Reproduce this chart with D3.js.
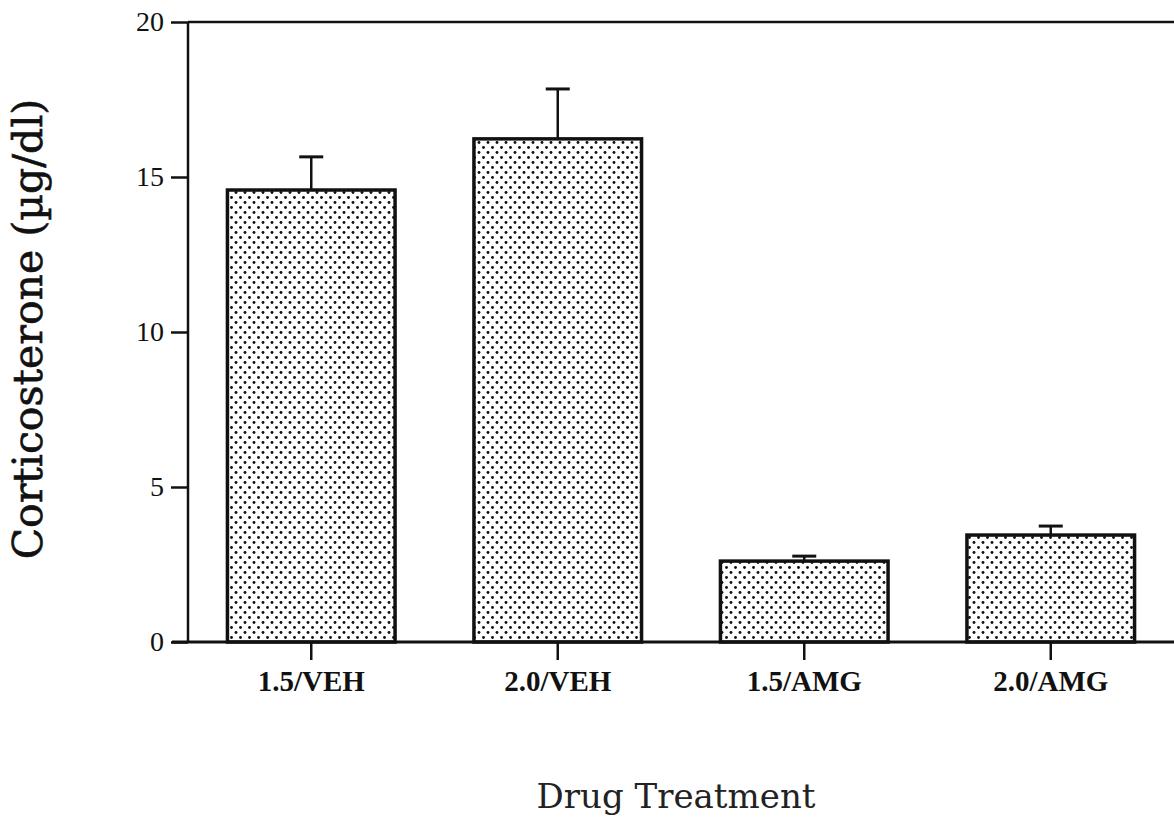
<!DOCTYPE html>
<html>
<head>
<meta charset="utf-8">
<script src="https://cdn.jsdelivr.net/npm/d3@7"></script>
<style>
  body { margin: 0; background: #fff; }
</style>
</head>
<body>
<div id="visHolder"></div>
<script>
// data
const groups = ["1.5/VEH", "2.0/VEH", "1.5/AMG", "2.0/AMG"];
const means = [14.58, 16.23, 2.61, 3.45];
const errors = [1.07, 1.61, 0.16, 0.29];
const yTicks = [0, 5, 10, 15, 20];

const width = 1174;
const height = 823;

let svg = d3.select("#visHolder")
    .append("svg")
    .attr("width", width)
    .attr("height", height);

// dotted fill
let pat = svg.append("defs")
    .append("pattern")
    .attr("id", "dots")
    .attr("patternUnits", "userSpaceOnUse")
    .attr("width", 9)
    .attr("height", 10);
pat.append("rect").attr("width", 9).attr("height", 10).attr("fill", "#fff");
pat.append("circle").attr("cx", 2).attr("cy", 2.5).attr("r", 1.45).attr("fill", "#111");
pat.append("circle").attr("cx", 6.5).attr("cy", 7.5).attr("r", 1.45).attr("fill", "#111");

let xScale = d3.scaleBand()
    .domain(groups)
    .range([188, 1174])
    .paddingInner(0.32)
    .paddingOuter(0.16);

let yScale = d3.scaleLinear()
    .domain([0, 20])
    .range([642, 22]);

// bars
svg.selectAll("rect.bar")
    .data(groups)
    .enter()
    .append("rect")
    .attr("class", "bar")
    .attr("x", d => xScale(d))
    .attr("y", (d, i) => yScale(means[i]))
    .attr("width", xScale.bandwidth())
    .attr("height", (d, i) => yScale(0) - yScale(means[i]))
    .attr("fill", "url(#dots)")
    .attr("stroke", "#111")
    .attr("stroke-width", 3.5);

// error bars (upper only)
groups.forEach((g, i) => {
    let cx = xScale(g) + xScale.bandwidth() / 2;
    svg.append("line")
        .attr("x1", cx).attr("x2", cx)
        .attr("y1", yScale(means[i]))
        .attr("y2", yScale(means[i] + errors[i]))
        .attr("stroke", "#111").attr("stroke-width", 2.5);
    svg.append("line")
        .attr("x1", cx - 12).attr("x2", cx + 12)
        .attr("y1", yScale(means[i] + errors[i]))
        .attr("y2", yScale(means[i] + errors[i]))
        .attr("stroke", "#111").attr("stroke-width", 3);
});

// y axis
let yAxis = d3.axisLeft(yScale)
    .tickValues(yTicks)
    .tickSize(17)
    .tickPadding(7);
let yG = svg.append("g")
    .attr("transform", "translate(188,0)")
    .call(yAxis);
yG.select(".domain").remove();
yG.append("line")
    .attr("x1", 0).attr("x2", 0)
    .attr("y1", yScale(20)).attr("y2", yScale(0))
    .attr("stroke", "#111").attr("stroke-width", 2.5);
yG.selectAll(".tick line").attr("stroke", "#111").attr("stroke-width", 2.5);
yG.selectAll(".tick text")
    .attr("fill", "#111")
    .style("font-family", "'Liberation Serif', 'Times New Roman', serif")
    .style("font-size", "28px");

// top frame line
svg.append("line")
    .attr("x1", 188).attr("x2", 1174)
    .attr("y1", yScale(20)).attr("y2", yScale(20))
    .attr("stroke", "#111").attr("stroke-width", 2.5);

// x axis
let xAxis = d3.axisBottom(xScale)
    .tickSize(18)
    .tickPadding(10);
let xG = svg.append("g")
    .attr("transform", "translate(0,642)")
    .call(xAxis);
xG.select(".domain").remove();
xG.append("line")
    .attr("x1", 172).attr("x2", 1174)
    .attr("y1", 0).attr("y2", 0)
    .attr("stroke", "#111").attr("stroke-width", 3);
xG.selectAll(".tick line").attr("stroke", "#111").attr("stroke-width", 2.5);
xG.selectAll(".tick text")
    .attr("fill", "#111")
    .style("font-family", "'Liberation Serif', 'Times New Roman', serif")
    .style("font-weight", "bold")
    .style("font-size", "29px");

// axis titles
svg.append("text")
    .attr("x", 676)
    .attr("y", 808)
    .attr("text-anchor", "middle")
    .style("font-family", "'DejaVu Serif', serif")
    .style("font-size", "34px")
    .attr("fill", "#222")
    .text("Drug Treatment");

svg.append("text")
    .attr("transform", "translate(42,329) rotate(-90)")
    .attr("text-anchor", "middle")
    .style("font-family", "'DejaVu Serif', serif")
    .style("font-size", "41px")
    .attr("fill", "#111")
    .attr("stroke", "#111")
    .attr("stroke-width", 0.6)
    .text("Corticosterone (µg/dl)");
</script>
</body>
</html>
